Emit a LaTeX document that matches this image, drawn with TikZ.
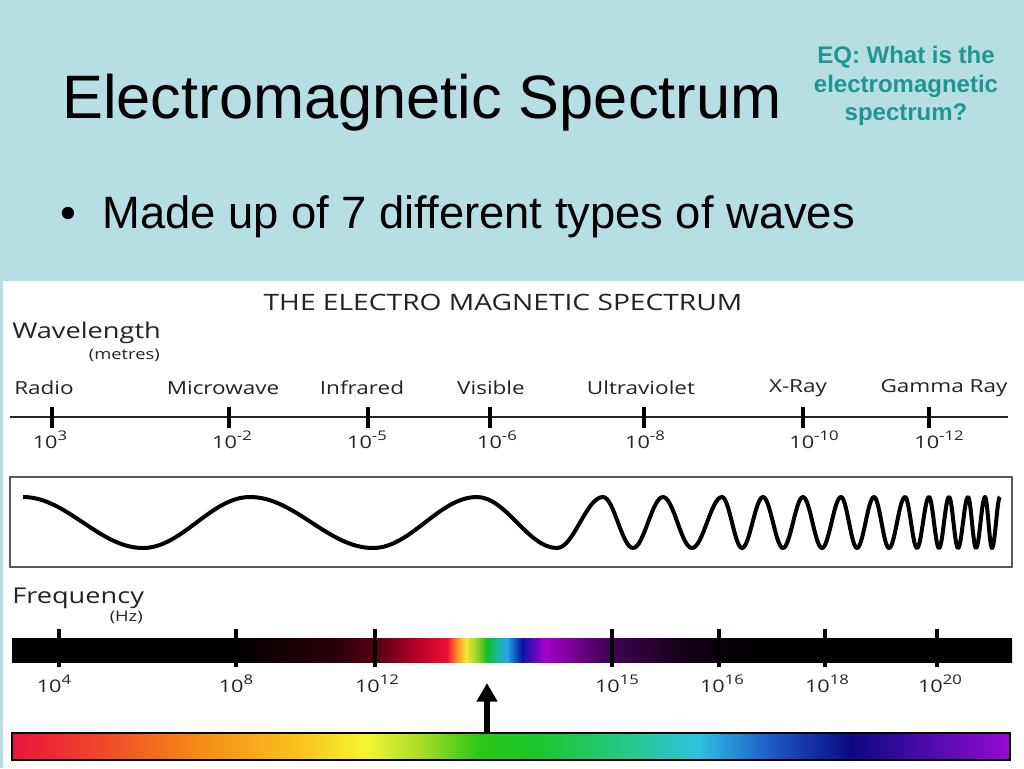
\documentclass[tikz,border=0pt]{standalone}
\usepackage{fontspec}
\usepackage{graphicx}
\setmainfont{Liberation Sans}
\newfontfamily\chartfont{Open Sans}
\usetikzlibrary{arrows.meta}
\newcommand{\chartwide}[1]{\scalebox{1.25}[1]{#1}}
\newcommand{\upexp}[1]{\raisebox{0.42em}{\fontsize{10}{12}\selectfont #1}}
\definecolor{bgblue}{RGB}{183,222,226}
\definecolor{eqteal}{RGB}{30,150,150}
\definecolor{charttext}{RGB}{35,35,35}
\definecolor{boxgray}{RGB}{90,90,90}
% frequency bar colours
\definecolor{fa}{RGB}{40,0,8}
\definecolor{fb}{RGB}{85,0,20}
\definecolor{fc}{RGB}{190,0,40}
\definecolor{fd}{RGB}{235,15,55}
\definecolor{fe}{RGB}{255,130,30}
\definecolor{ff}{RGB}{245,230,50}
\definecolor{fg}{RGB}{150,210,40}
\definecolor{fh}{RGB}{20,190,40}
\definecolor{fi}{RGB}{20,185,150}
\definecolor{fj}{RGB}{40,165,230}
\definecolor{fk}{RGB}{10,20,170}
\definecolor{fl}{RGB}{165,0,205}
\definecolor{fm}{RGB}{75,0,95}
\definecolor{fn}{RGB}{20,0,25}
% rainbow colours
\definecolor{ra}{RGB}{235,20,60}
\definecolor{rb}{RGB}{240,70,40}
\definecolor{rc}{RGB}{245,140,20}
\definecolor{rd}{RGB}{250,195,30}
\definecolor{re}{RGB}{245,245,50}
\definecolor{rf}{RGB}{170,220,40}
\definecolor{rg}{RGB}{40,200,20}
\definecolor{rh}{RGB}{25,200,45}
\definecolor{ri}{RGB}{40,200,150}
\definecolor{rj}{RGB}{45,195,225}
\definecolor{rk}{RGB}{30,90,200}
\definecolor{rl}{RGB}{10,10,130}
\definecolor{rm}{RGB}{80,10,175}
\definecolor{rn}{RGB}{150,10,210}
\pgfdeclarehorizontalshading{freqshade}{100bp}{color(0bp)=(black); color(25bp)=(black); color(35.9bp)=(black); color(40.9bp)=(fa); color(43.15bp)=(fb); color(45.4bp)=(fc); color(46.75bp)=(fd); color(47.2bp)=(fe); color(47.7bp)=(ff); color(48.25bp)=(fg); color(48.75bp)=(fh); color(49.25bp)=(fi); color(49.75bp)=(fj); color(50.5bp)=(fk); color(51.65bp)=(fl); color(54.4bp)=(fm); color(58.4bp)=(fn); color(62.4bp)=(black); color(75bp)=(black); color(100bp)=(black)}
\pgfdeclarehorizontalshading{rainbowshade}{100bp}{color(0bp)=(ra); color(25bp)=(ra); color(29.4bp)=(rb); color(34.42bp)=(rc); color(39.43bp)=(rd); color(42.69bp)=(re); color(45.44bp)=(rf); color(48.45bp)=(rg); color(51.45bp)=(rh); color(56.46bp)=(ri); color(59.32bp)=(rj); color(62.98bp)=(rk); color(66.99bp)=(rl); color(71bp)=(rm); color(75bp)=(rn); color(100bp)=(rn)}
\begin{document}
\begin{tikzpicture}[x=0.75pt,y=-0.75pt,
  eqline/.style={anchor=base, inner sep=0, text=eqteal, font=\bfseries\fontsize{18}{21}\selectfont},
  chart/.style={inner sep=0, text=charttext},
  band/.style={chart, font=\chartfont\fontsize{13.5}{15}\selectfont},
  expo/.style={chart, anchor=base, font=\chartfont\fontsize{13}{15}\selectfont},
  axislabel/.style={chart, anchor=west, font=\chartfont\fontsize{16.3}{18}\selectfont},
  unitlabel/.style={chart, anchor=east, font=\chartfont\fontsize{11}{13}\selectfont},
  tickmark/.style={line width=3pt, black},
  wave/.style={line width=3pt, black, line join=round}
]
\useasboundingbox (0,0) rectangle (1024,768);
\fill[bgblue] (0,0) rectangle (1024,768);
\fill[white] (3,281) rectangle (1024,768);

% slide text
\node[anchor=base west, inner sep=0, font=\fontsize{46}{50}\selectfont] (title) at (62,118) {Electromagnetic Spectrum};
\node[anchor=base, inner sep=0, font=\fontsize{34}{40}\selectfont] (bullet) at (68,228) {•};
\node[anchor=base west, inner sep=0, font=\fontsize{34}{40}\selectfont] (point) at (102,228) {Made up of 7 different types of waves};
\node[eqline] (eq1) at (906,63) {EQ: What is the};
\node[eqline] (eq2) at (906,92) {electromagnetic};
\node[eqline] (eq3) at (906,120) {spectrum?};

% chart heading
\node[chart, font=\chartfont\fontsize{16.9}{19}\selectfont] (ctitle) at (503,302) {\chartwide{THE ELECTRO MAGNETIC SPECTRUM}};
\node[axislabel] (wl) at (12,333) {\chartwide{Wavelength}};
\node[unitlabel] (wlu) at (160,355) {\chartwide{(metres)}};

% band names
\node[band] (radio) at (44,388) {\chartwide{Radio}};
\node[band] (micro) at (223,388) {\chartwide{Microwave}};
\node[band] (infra) at (362,388) {\chartwide{Infrared}};
\node[band] (visib) at (491,388) {\chartwide{Visible}};
\node[band] (ultra) at (641,388) {\chartwide{Ultraviolet}};
\node[band] (xray) at (798,388) {\chartwide{X-Ray}};
\node[band] (gamma) at (944,388) {\chartwide{Gamma Ray}};

% wavelength axis
\coordinate (axL) at (10,417);
\coordinate (axR) at (1008,417);
\draw[line width=1.5pt, black!85] (axL) -- (axR);
\foreach \x in {52,229,368,490,644,803,929}
  \draw[tickmark] (\x,407) -- (\x,428);
\node[expo] (w1) at (50,448) {\chartwide{10\upexp{3}}};
\node[expo] (w2) at (232,448) {\chartwide{10\upexp{-2}}};
\node[expo] (w3) at (367,448) {\chartwide{10\upexp{-5}}};
\node[expo] (w4) at (497,448) {\chartwide{10\upexp{-6}}};
\node[expo] (w5) at (645,448) {\chartwide{10\upexp{-8}}};
\node[expo] (w6) at (814,448) {\chartwide{10\upexp{-10}}};
\node[expo] (w7) at (939,448) {\chartwide{10\upexp{-12}}};

% wave box
\node[draw=boxgray, line width=1.5pt, minimum width=751.5pt, minimum height=67.5pt, inner sep=0] (wavebox) at (511,522) {};
\draw[wave] (23,497)
  \foreach \t/\c [remember=\c as \p (initially 23)] in
   {143/250,373/477,557/603,633/663,692/722,742/763,783/803,822/841,857/874,889/905,917/929,939/949,958/968,976/985,992/1000}
   { cos ({(\p+\t)/2},522.5) sin (\t,548) cos ({(\t+\c)/2},522.5) sin (\c,497) };

% frequency
\node[axislabel] (fq) at (12,598) {\chartwide{Frequency}};
\node[unitlabel] (fqu) at (143,617) {\chartwide{(Hz)}};
\node[shading=freqshade, minimum width=750pt, minimum height=18pt, inner sep=0] (fbar) at (512,650) {};
\foreach \x in {59,236,375,612,719,825,937}
  \draw[tickmark] (\x,629) -- (\x,667);
\node[expo] (f1) at (54,692) {\chartwide{10\upexp{4}}};
\node[expo] (f2) at (236,692) {\chartwide{10\upexp{8}}};
\node[expo] (f3) at (377,692) {\chartwide{10\upexp{12}}};
\node[expo] (f4) at (617,692) {\chartwide{10\upexp{15}}};
\node[expo] (f5) at (722,692) {\chartwide{10\upexp{16}}};
\node[expo] (f6) at (827,692) {\chartwide{10\upexp{18}}};
\node[expo] (f7) at (940,692) {\chartwide{10\upexp{20}}};

% visible spectrum
\node[draw=black, line width=1.2pt, shading=rainbowshade, minimum width=748.5pt, minimum height=20.25pt, inner sep=0] (vis) at (511,746.5) {};
\coordinate (tip) at (487,683);
\draw[line width=4.5pt, -{Triangle[width=15pt,length=14pt]}] (vis.north -| tip) -- (tip);
\end{tikzpicture}
\end{document}
